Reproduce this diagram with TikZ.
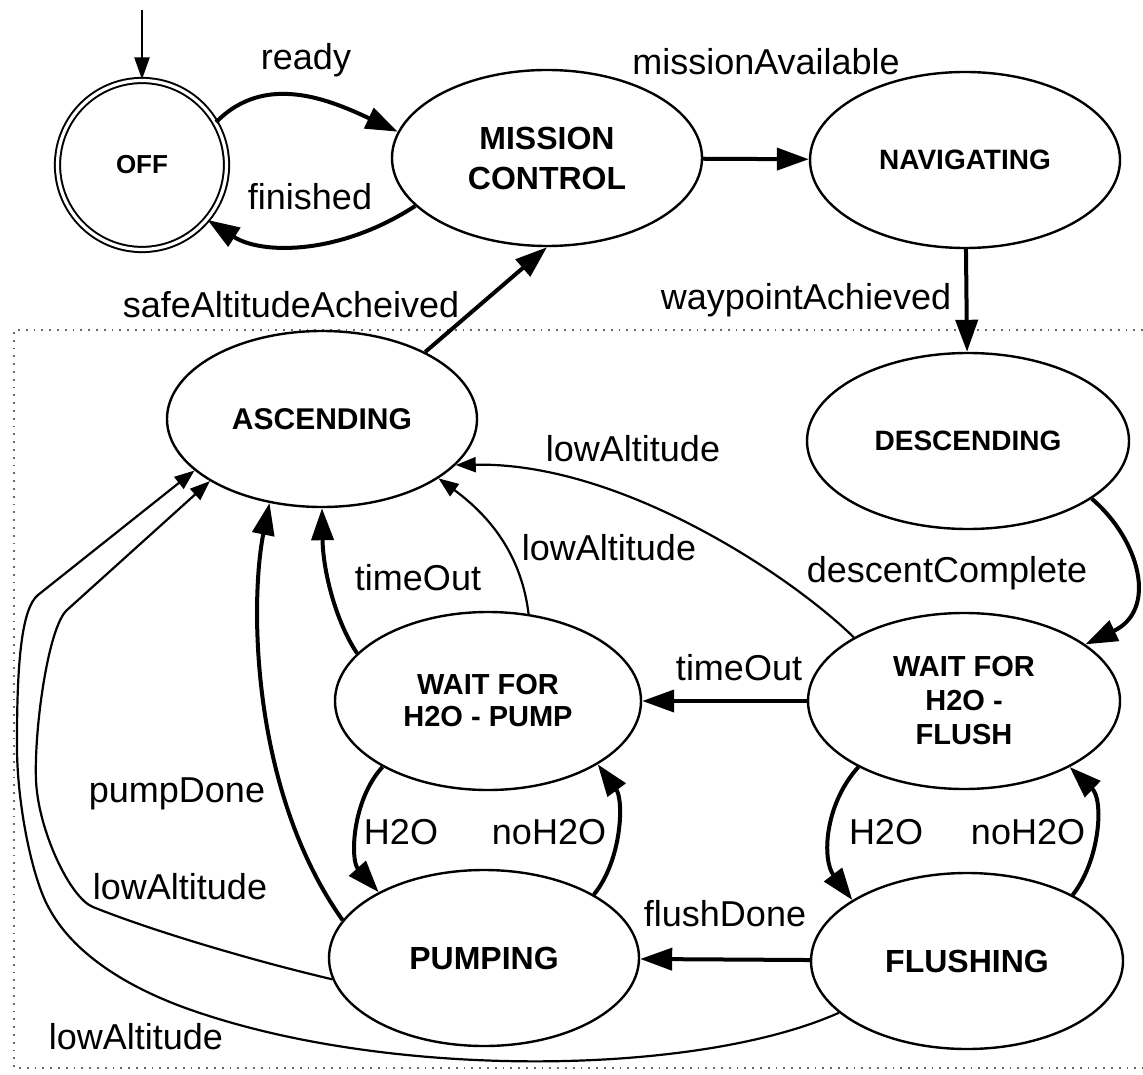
\documentclass[tikz,border=0pt]{standalone}
\usepackage{fontspec}
\setmainfont{Liberation Sans}
\usetikzlibrary{arrows.meta, shapes.geometric}
\tikzset{
    state-node/.style = {draw, ellipse, line width=1.2pt, minimum width=155pt, minimum height=88pt, inner sep=0pt, align=center, font=\bfseries\fontsize{14}{17}\selectfont},
    off-node/.style = {draw, circle, double, line width=1pt, double distance=1.6pt, minimum size=84.5pt, inner sep=0pt, font=\bfseries\fontsize{13}{15}\selectfont},
    thick-arrow/.style = {line width=2pt, -{Triangle[length=16pt, width=11pt]}},
    thin-arrow/.style = {line width=1.1pt, -{Triangle[length=10pt, width=7.5pt]}},
    init-arrow/.style = {line width=1pt, -{Triangle[length=11pt, width=7.5pt]}},
    trans-label/.style = {font=\fontsize{18}{21}\selectfont, inner sep=0pt},
    frame-line/.style = {black!60, line width=0.9pt, dash pattern=on 0.9pt off 3pt},
}

\begin{document}
\begin{tikzpicture}[x=0.5pt, y=-0.5pt]
\useasboundingbox (0,0) rectangle (1143,1074);

% dotted frame round the water states
\draw[frame-line] (1143,330) -- (14,330) -- (14,1068) -- (1143,1068);

% states
\node[off-node] (off) at (142,165) {OFF};
\node[state-node, font=\bfseries\fontsize{16}{20}\selectfont] (mission) at (547,158) {MISSION\\CONTROL};
\node[state-node] (nav) at (965,160) {NAVIGATING};
\node[state-node, minimum width=161pt] (desc) at (968,441) {DESCENDING};
\node[state-node, font=\bfseries\fontsize{15}{18}\selectfont] (asc) at (322,419) {ASCENDING};
\node[state-node, minimum width=153pt, minimum height=89pt, font=\bfseries\fontsize{14.5}{16}\selectfont] (waitpump) at (488,701) {WAIT FOR\\H2O - PUMP};
\node[state-node, minimum width=156pt, font=\bfseries\fontsize{14.5}{17}\selectfont] (waitflush) at (964,701) {WAIT FOR\\H2O -\\FLUSH};
\node[state-node, font=\bfseries\fontsize{16}{18}\selectfont] (pumping) at (484,958) {PUMPING};
\node[state-node, minimum width=156pt, font=\bfseries\fontsize{16}{18}\selectfont] (flushing) at (967,961) {FLUSHING};

% transitions
\coordinate (init) at (142,10);
\draw[init-arrow] (init) -- (off);
\draw[thick-arrow] (off.30) .. controls (265,72) and (330,100) .. (mission.170);
\draw[thick-arrow] (mission.-160) .. controls (340,255) and (262,255) .. (off.-40);
\draw[thick-arrow] (mission) -- (nav);
\draw[thick-arrow] (nav) -- (desc);
\draw[thick-arrow] (desc.-25) .. controls (1140,540) and (1158,610) .. (waitflush.25);
\draw[thick-arrow] (asc.33) -- (mission.south);
\draw[thin-arrow] (waitflush.150) .. controls (790,575) and (620,462) .. (asc.-19);
\draw[thin-arrow] (waitpump.65) .. controls (522,560) and (495,520) .. (asc.-27);
\draw[thick-arrow] (waitpump.160) .. controls (335,620) and (323,570) .. (asc.south);
\draw[thick-arrow] (pumping.165) .. controls (250,790) and (250,600) .. (asc.-122);
\draw[thin-arrow] (pumping.188) .. controls (250,960) and (150,930) .. (93,907)
    .. controls (70,898) and (38,830) .. (36,780)
    .. controls (34,730) and (48,627) .. (67,610) -- (asc.-151);
\draw[thin-arrow] (flushing.-158) .. controls (700,1075) and (400,1080) .. (200,1013)
    .. controls (130,990) and (75,955) .. (50,910)
    .. controls (32,880) and (16,800) .. (17,740)
    .. controls (17,660) and (22,608) .. (38,595) -- (asc.-158);
\draw[thick-arrow] (waitflush) -- (waitpump);
\draw[thick-arrow] (flushing) -- (pumping);
\draw[thick-arrow] (waitpump.-148) .. controls (352,800) and (350,860) .. (pumping.148);
\draw[thick-arrow] (pumping.30) .. controls (622,860) and (624,800) .. (waitpump.-30);
\draw[thick-arrow] (waitflush.-148) .. controls (824,805) and (822,860) .. (flushing.152);
\draw[thick-arrow] (flushing.32) .. controls (1100,860) and (1104,800) .. (waitflush.-32);

% labels
\node[trans-label] (lbl-ready) at (306,60) {ready};
\node[trans-label] (lbl-finished) at (310,197) {finished};
\node[trans-label] (lbl-mission) at (766,62) {missionAvailable};
\node[trans-label] (lbl-waypoint) at (806,300) {waypointAchieved};
\node[trans-label] (lbl-safe) at (291,305) {safeAltitudeAcheived};
\node[trans-label] (lbl-descent) at (947,573) {descentComplete};
\node[trans-label] (lbl-low-flush) at (633,449) {lowAltitude};
\node[trans-label] (lbl-low-wait) at (609,548) {lowAltitude};
\node[trans-label] (lbl-timeout-wait) at (418,578) {timeOut};
\node[trans-label] (lbl-timeout-flush) at (739,668) {timeOut};
\node[trans-label] (lbl-pumpdone) at (177,794) {pumpDone};
\node[trans-label] (lbl-low-pump) at (180,887) {lowAltitude};
\node[trans-label] (lbl-low-flushing) at (136,1037) {lowAltitude};
\node[trans-label] (lbl-flushdone) at (725,914) {flushDone};
\node[trans-label] (lbl-h2o-pump) at (401,832) {H2O};
\node[trans-label] (lbl-noh2o-pump) at (549,832) {noH2O};
\node[trans-label] (lbl-h2o-flush) at (886,832) {H2O};
\node[trans-label] (lbl-noh2o-flush) at (1028,832) {noH2O};
\end{tikzpicture}
\end{document}
